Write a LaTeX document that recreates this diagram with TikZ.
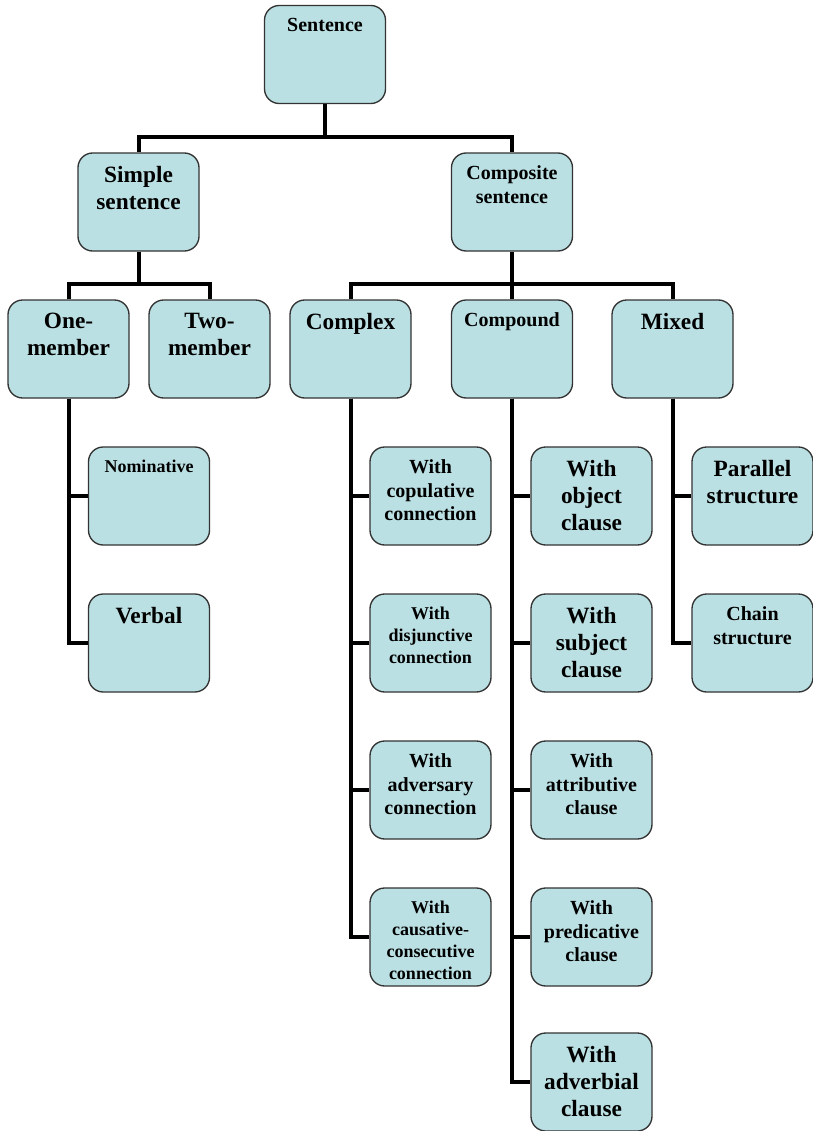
\documentclass[tikz,border=0pt]{standalone}
\usepackage{fontspec}
\setmainfont{Liberation Serif}
\usepackage{tikz}
\usetikzlibrary{positioning}
\usetikzlibrary{calc}
\definecolor{boxcyan}{RGB}{187,224,227}
\newcommand{\boxbreak}{\par}
\tikzstyle{box}=[draw=black!80,line width=1pt,fill=boxcyan,rounded corners=11pt,
  inner xsep=2pt,inner ysep=9.75pt,minimum width=90.75pt,minimum height=73.5pt,
  execute at begin node={\begin{minipage}[t][54pt][t]{86pt}\centering},
  execute at end node={\end{minipage}}]
\tikzstyle{big box}=[box,font=\fontsize{17.5}{20.25}\selectfont\bfseries]
\tikzstyle{mid box}=[box,font=\fontsize{15}{17.5}\selectfont\bfseries]
\tikzstyle{small box}=[box,font=\fontsize{13.5}{16.5}\selectfont\bfseries]
\tikzstyle{link}=[draw,line width=3pt]

\begin{document}
\begin{tikzpicture}[x=0.75pt,y=-0.75pt]
    \useasboundingbox (0,0) rectangle (813,1131);
    % First we draw the boxes
    \foreach \pos/\name/\txt in {{(138.5,202)/simple/Simple\boxbreak sentence},
        {(68.5,349)/one/One-\boxbreak member}, {(209.5,349)/two/Two-\boxbreak member},
        {(350.5,349)/cplx/Complex}, {(672.5,349)/mixed/Mixed}, {(149,643)/verb/Verbal},
        {(591.5,496)/cd1/With\boxbreak object\boxbreak clause},
        {(591.5,643)/cd2/With\boxbreak subject\boxbreak clause},
        {(591.5,1082)/cd5/With\boxbreak adverbial\boxbreak clause},
        {(752.5,496)/mx1/Parallel\boxbreak structure}}
        \node[big box] (\name) at \pos {\txt};

    \foreach \pos/\name/\txt in {{(325,54.5)/sent/Sentence},
        {(512,202)/comp/Composite\boxbreak sentence}, {(512,349)/cpnd/Compound},
        {(430.5,496)/cx1/With\boxbreak copulative\boxbreak connection},
        {(430.5,790)/cx3/With\boxbreak adversary\boxbreak connection},
        {(591.5,790)/cd3/With\boxbreak attributive\boxbreak clause},
        {(591.5,937)/cd4/With\boxbreak predicative\boxbreak clause},
        {(752.5,643)/mx2/Chain\boxbreak structure}}
        \node[mid box] (\name) at \pos {\txt};

    \foreach \pos/\name/\txt in {{(149,496)/nom/Nominative},
        {(430.5,643)/cx2/With\boxbreak disjunctive\boxbreak connection},
        {(430.5,937)/cx4/With\boxbreak causative-\boxbreak consecutive\boxbreak connection}}
        \node[small box] (\name) at \pos {\txt};

    % Then the buses under the upper boxes
    \draw[link] (simple.north) -- ++(0,-15) coordinate (top bus) -| (comp.north);
    \draw[link] (sent.south) -- (sent.south |- top bus);
    \draw[link] (one.north) -- ++(0,-15) coordinate (simple bus) -| (two.north);
    \draw[link] (simple.south) -- (simple.south |- simple bus);
    \draw[link] (cplx.north) -- ++(0,-15) coordinate (comp bus) -| (mixed.north);
    \draw[link] (comp.south) -- (cpnd.north);

    % Connect the lists to their parents
    \foreach \parent/\child in {one/nom, one/verb, cplx/cx1, cplx/cx2, cplx/cx3, cplx/cx4,
        cpnd/cd1, cpnd/cd2, cpnd/cd3, cpnd/cd4, cpnd/cd5, mixed/mx1, mixed/mx2}
        \draw[link] (\parent.south) |- (\child.west);
\end{tikzpicture}
\end{document}
